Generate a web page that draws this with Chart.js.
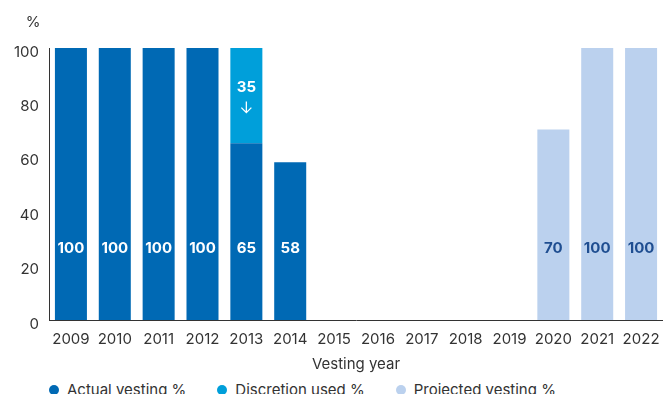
<!DOCTYPE html>
<html>
<head>
<meta charset="utf-8">
<script src="https://cdn.jsdelivr.net/npm/chart.js@4.4.1/dist/chart.umd.min.js"></script>
<style>
  html, body { margin: 0; padding: 0; background: #fff; overflow: hidden; }
  #wrap { position: relative; width: 663px; height: 394px; overflow: hidden; }
  #myChart { position: absolute; left: 0; top: 0; }
  #chartLegend {
    position: absolute; left: 49px; top: 381px;
    display: flex; font-family: Inter, sans-serif; font-size: 15px; color: #333;
    line-height: 18px; white-space: nowrap;
  }
  .legend-item { display: flex; align-items: center; margin-right: 31px; }
  .legend-color { width: 10px; height: 10px; border-radius: 50%; margin-right: 8px; }
</style>
</head>
<body>
<div id="wrap">
  <canvas id="myChart" width="663" height="374"></canvas>
  <div id="chartLegend"></div>
</div>
<script>
const años = ['2009', '2010', '2011', '2012', '2013', '2014', '2015', '2016', '2017', '2018', '2019', '2020', '2021', '2022'];
const vestingReal = [100, 100, 100, 100, 65, 58, null, null, null, null, null, null, null, null];
const discrecion = [null, null, null, null, 35, null, null, null, null, null, null, null, null, null];
const proyectado = [null, null, null, null, null, null, null, null, null, null, null, 70, 100, 100];
const ticksY = [0, 20, 40, 60, 80, 100];

const colorReal = '#0069b4';
const colorDiscrecion = '#009fda';
const colorProyectado = '#bbd1ee';
const fuente = 'Inter, sans-serif';

// etiquetas de valor dentro de las barras
const etiquetasBarras = {
    id: 'etiquetasBarras',
    afterDatasetsDraw(chart) {
        const ctx = chart.ctx;
        const yScale = chart.scales.y;
        const yEtiqueta = yScale.getPixelForValue(26.3);
        ctx.save();
        ctx.font = `700 15px ${fuente}`;
        ctx.textAlign = 'center';
        ctx.textBaseline = 'middle';

        chart.data.datasets.forEach((ds, i) => {
            const meta = chart.getDatasetMeta(i);
            meta.data.forEach((bar, j) => {
                const v = ds.data[j];
                if (v === null || v === undefined) return;
                if (ds.tipo === 'discrecion') {
                    const mid = (bar.y + bar.base) / 2;
                    ctx.fillStyle = '#fff';
                    ctx.fillText(String(v), bar.x, mid - 8);
                    // flecha hacia abajo
                    ctx.strokeStyle = '#fff';
                    ctx.lineWidth = 1.3;
                    ctx.beginPath();
                    ctx.moveTo(bar.x, mid + 6);
                    ctx.lineTo(bar.x, mid + 17);
                    ctx.moveTo(bar.x - 5, mid + 12);
                    ctx.lineTo(bar.x, mid + 17);
                    ctx.lineTo(bar.x + 5, mid + 12);
                    ctx.stroke();
                } else {
                    ctx.fillStyle = ds.tipo === 'proyectado' ? '#1f4e91' : '#fff';
                    ctx.fillText(String(v), bar.x, yEtiqueta);
                }
            });
        });

        // unidad del eje Y
        const area = chart.chartArea;
        ctx.font = `400 15px ${fuente}`;
        ctx.fillStyle = '#333';
        ctx.fillText('%', area.left - 16, area.top - 26);
        ctx.restore();
    }
};

const ctx = document.getElementById('myChart').getContext('2d');
const myChart = new Chart(ctx, {
    type: 'bar',
    data: {
        labels: años,
        datasets: [
            { label: 'Actual vesting %', tipo: 'real', data: vestingReal, backgroundColor: colorReal },
            { label: 'Discretion used %', tipo: 'discrecion', data: discrecion, backgroundColor: colorDiscrecion },
            { label: 'Projected vesting %', tipo: 'proyectado', data: proyectado, backgroundColor: colorProyectado }
        ]
    },
    options: {
        responsive: false,
        animation: false,
        devicePixelRatio: 1,
        layout: { padding: { top: 48, right: 0, left: 0, bottom: 0 } },
        datasets: {
            bar: { categoryPercentage: 1, barPercentage: 0.73, borderWidth: 0 }
        },
        plugins: {
            legend: { display: false },
            tooltip: { enabled: false }
        },
        scales: {
            x: {
                stacked: true,
                grid: { display: false, drawTicks: true, tickLength: 10 },
                border: { display: true, color: '#333', width: 1 },
                ticks: { color: '#333', font: { family: fuente, size: 15 }, padding: 0, maxRotation: 0, autoSkip: false },
                title: { display: true, text: 'Vesting year', color: '#333', font: { family: fuente, size: 15 }, padding: { top: 4, bottom: 1 } },
                afterFit(scale) { scale.height = 54; }
            },
            y: {
                stacked: true,
                min: 0,
                max: 100,
                afterBuildTicks(scale) { scale.ticks = ticksY.map(v => ({ value: v })); },
                grid: { display: false, drawTicks: false },
                border: { display: true, color: '#333', width: 1 },
                ticks: { color: '#333', font: { family: fuente, size: 15 }, padding: 10, labelOffset: 4 },
                afterFit(scale) { scale.width = 49; }
            }
        }
    },
    plugins: [etiquetasBarras]
});

// leyenda en HTML
const legendHtml = myChart.data.datasets.map(ds => `
    <div class="legend-item">
        <span class="legend-color" style="background-color: ${ds.backgroundColor};"></span>
        <span>${ds.label}</span>
    </div>`).join('');
document.getElementById('chartLegend').innerHTML = legendHtml;
</script>
</body>
</html>
